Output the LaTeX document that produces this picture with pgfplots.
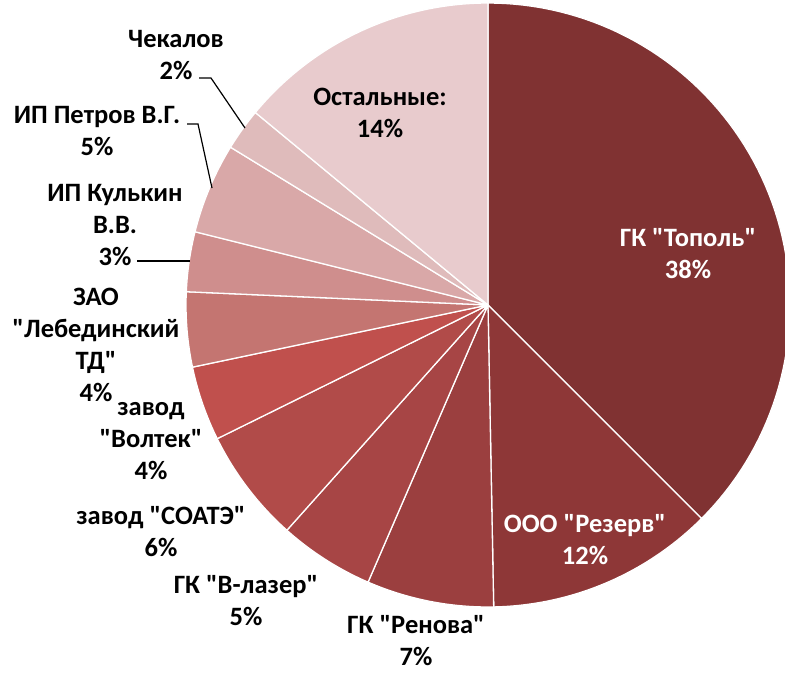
\documentclass[border=0pt]{standalone}
\usepackage{fontspec}
\setmainfont{Carlito}[Ligatures=TeXOff]
\usepackage{pgfplots}
\pgfplotsset{compat=1.18}
\definecolor{c1}{HTML}{803232}
\definecolor{c2}{HTML}{8E3737}
\definecolor{c3}{HTML}{9B3F3F}
\definecolor{c4}{HTML}{A74545}
\definecolor{c5}{HTML}{B14B49}
\definecolor{c6}{HTML}{C0504D}
\definecolor{c7}{HTML}{C47571}
\definecolor{c8}{HTML}{CF8E8D}
\definecolor{c9}{HTML}{D9A8A8}
\definecolor{c10}{HTML}{DFBBBB}
\definecolor{c11}{HTML}{E8CBCD}
\newcommand{\cx}{488}
\newcommand{\cy}{305}
\newcommand{\rr}{302}
\tikzset{lbl/.style={font=\fontsize{26.5}{32}\selectfont\bfseries, align=center, inner sep=0pt, text=black}}
\begin{document}
\begin{tikzpicture}
\begin{axis}[width=785pt, height=674pt, scale only axis,
  xmin=0, xmax=785, ymin=0, ymax=674, y dir=reverse,
  hide axis, clip=true,
  every axis plot/.append style={draw=white, line width=1.3pt, samples=80, line join=round}]
\path (axis cs:0,0) rectangle (axis cs:785,674);
% slice boundaries as cumulative shares (%)
\addplot[fill=c1,  domain=0:37.5]    ({\cx+\rr*sin(3.6*x)},{\cy-\rr*cos(3.6*x)}) -- (axis cs:\cx,\cy) -- cycle;
\addplot[fill=c2,  domain=37.5:49.7] ({\cx+\rr*sin(3.6*x)},{\cy-\rr*cos(3.6*x)}) -- (axis cs:\cx,\cy) -- cycle;
\addplot[fill=c3,  domain=49.7:56.5] ({\cx+\rr*sin(3.6*x)},{\cy-\rr*cos(3.6*x)}) -- (axis cs:\cx,\cy) -- cycle;
\addplot[fill=c4,  domain=56.5:61.6] ({\cx+\rr*sin(3.6*x)},{\cy-\rr*cos(3.6*x)}) -- (axis cs:\cx,\cy) -- cycle;
\addplot[fill=c5,  domain=61.6:67.7] ({\cx+\rr*sin(3.6*x)},{\cy-\rr*cos(3.6*x)}) -- (axis cs:\cx,\cy) -- cycle;
\addplot[fill=c6,  domain=67.7:71.7] ({\cx+\rr*sin(3.6*x)},{\cy-\rr*cos(3.6*x)}) -- (axis cs:\cx,\cy) -- cycle;
\addplot[fill=c7,  domain=71.7:75.7] ({\cx+\rr*sin(3.6*x)},{\cy-\rr*cos(3.6*x)}) -- (axis cs:\cx,\cy) -- cycle;
\addplot[fill=c8,  domain=75.7:78.9] ({\cx+\rr*sin(3.6*x)},{\cy-\rr*cos(3.6*x)}) -- (axis cs:\cx,\cy) -- cycle;
\addplot[fill=c9,  domain=78.9:83.75] ({\cx+\rr*sin(3.6*x)},{\cy-\rr*cos(3.6*x)}) -- (axis cs:\cx,\cy) -- cycle;
\addplot[fill=c10, domain=83.75:86.0] ({\cx+\rr*sin(3.6*x)},{\cy-\rr*cos(3.6*x)}) -- (axis cs:\cx,\cy) -- cycle;
\addplot[fill=c11, domain=86.0:100]  ({\cx+\rr*sin(3.6*x)},{\cy-\rr*cos(3.6*x)}) -- (axis cs:\cx,\cy) -- cycle;
% leader lines
\draw[black, line width=1.2pt] (axis cs:199,78) -- (axis cs:211,78) -- (axis cs:245,128);
\draw[black, line width=1.2pt] (axis cs:187,124) -- (axis cs:198,124) -- (axis cs:212,188);
\draw[black, line width=1.2pt] (axis cs:137,261) -- (axis cs:190,261);
% labels
\node[lbl] at (axis cs:380,113) {Остальные:\\14\%};
\node[lbl, text=white] at (axis cs:688,254) {ГК "Тополь"\\38\%};
\node[lbl, text=white] at (axis cs:585,540) {ООО "Резерв"\\12\%};
\node[lbl] at (axis cs:416,641) {ГК "Ренова"\\7\%};
\node[lbl] at (axis cs:246,601) {ГК "В-лазер"\\5\%};
\node[lbl] at (axis cs:161,532) {завод "СОАТЭ"\\6\%};
\node[lbl] at (axis cs:151,441) {завод\\"Волтек"\\4\%};
\node[lbl] at (axis cs:96,345) {ЗАО\\"Лебединский\\ТД"\\4\%};
\node[lbl] at (axis cs:115,225) {ИП Кулькин\\В.В.\\3\%};
\node[lbl] at (axis cs:97,131) {ИП Петров В.Г.\\5\%};
\node[lbl] at (axis cs:176,55) {Чекалов\\2\%};
\end{axis}
\end{tikzpicture}
\end{document}
